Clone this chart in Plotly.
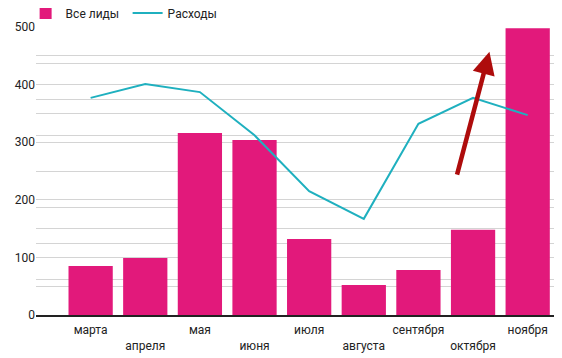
import plotly.graph_objects as go

months = ["марта", "апреля", "мая", "июня", "июля", "августа", "сентября", "октября", "ноября"]
leads = [85, 99, 316, 304, 132, 52, 78, 148, 498]
costs = [377, 401, 387, 312, 215, 167, 332, 377, 347]
y_ticks = [0, 100, 200, 300, 400, 500]

tick_text = [m if i % 2 == 0 else "<br>" + m for i, m in enumerate(months)]

fig = go.Figure()
fig.add_trace(go.Bar(x=months, y=leads, name="Все лиды", marker_color="#E2197B",
                     marker_line_width=0))
fig.add_trace(go.Scatter(x=months, y=costs, name="Расходы", mode="lines",
                         line=dict(color="#1FB0BF", width=2), yaxis="y2"))

fig.add_annotation(x=7.3, y=457, ax=6.7, ay=241, xref="x", yref="y", axref="x", ayref="y",
                   showarrow=True, arrowhead=2, arrowsize=1.0, arrowwidth=4.5,
                   arrowcolor="#AE0C0C", text="")

fig.update_layout(
    width=554, height=350,
    margin=dict(l=28, r=7, t=19, b=43, autoexpand=False),
    paper_bgcolor="white", plot_bgcolor="white",
    font=dict(family="Roboto", size=12, color="#333"),
    bargap=0.19,
    showlegend=True,
    legend=dict(orientation="h", x=-0.02, y=1.0486, yanchor="middle", xanchor="left",
                bgcolor="rgba(0,0,0,0)", entrywidth=57,
                font=dict(size=12, color="#222"), traceorder="normal"),
    xaxis=dict(type="category", range=[-1, 8.5], tickmode="array", tickvals=months,
               ticktext=tick_text, showline=True, linecolor="#222", linewidth=1.5,
               ticks="", showgrid=False, tickfont=dict(size=12, color="#222"),
               ticklabelstandoff=3, automargin=False),
    yaxis=dict(range=[0, 500], tickvals=y_ticks, showgrid=True, gridcolor="#d4d4d4",
               zeroline=False, ticks="", tickfont=dict(size=12, color="#222"),
               automargin=False,
               minor=dict(dtick=50, showgrid=True, gridcolor="#d4d4d4")),
    yaxis2=dict(range=[0, 500], overlaying="y", side="right", dtick=62.5,
                showticklabels=False, showgrid=True, gridcolor="#d4d4d4",
                zeroline=False, ticks="", automargin=False),
)

fig.write_html("out.html")
